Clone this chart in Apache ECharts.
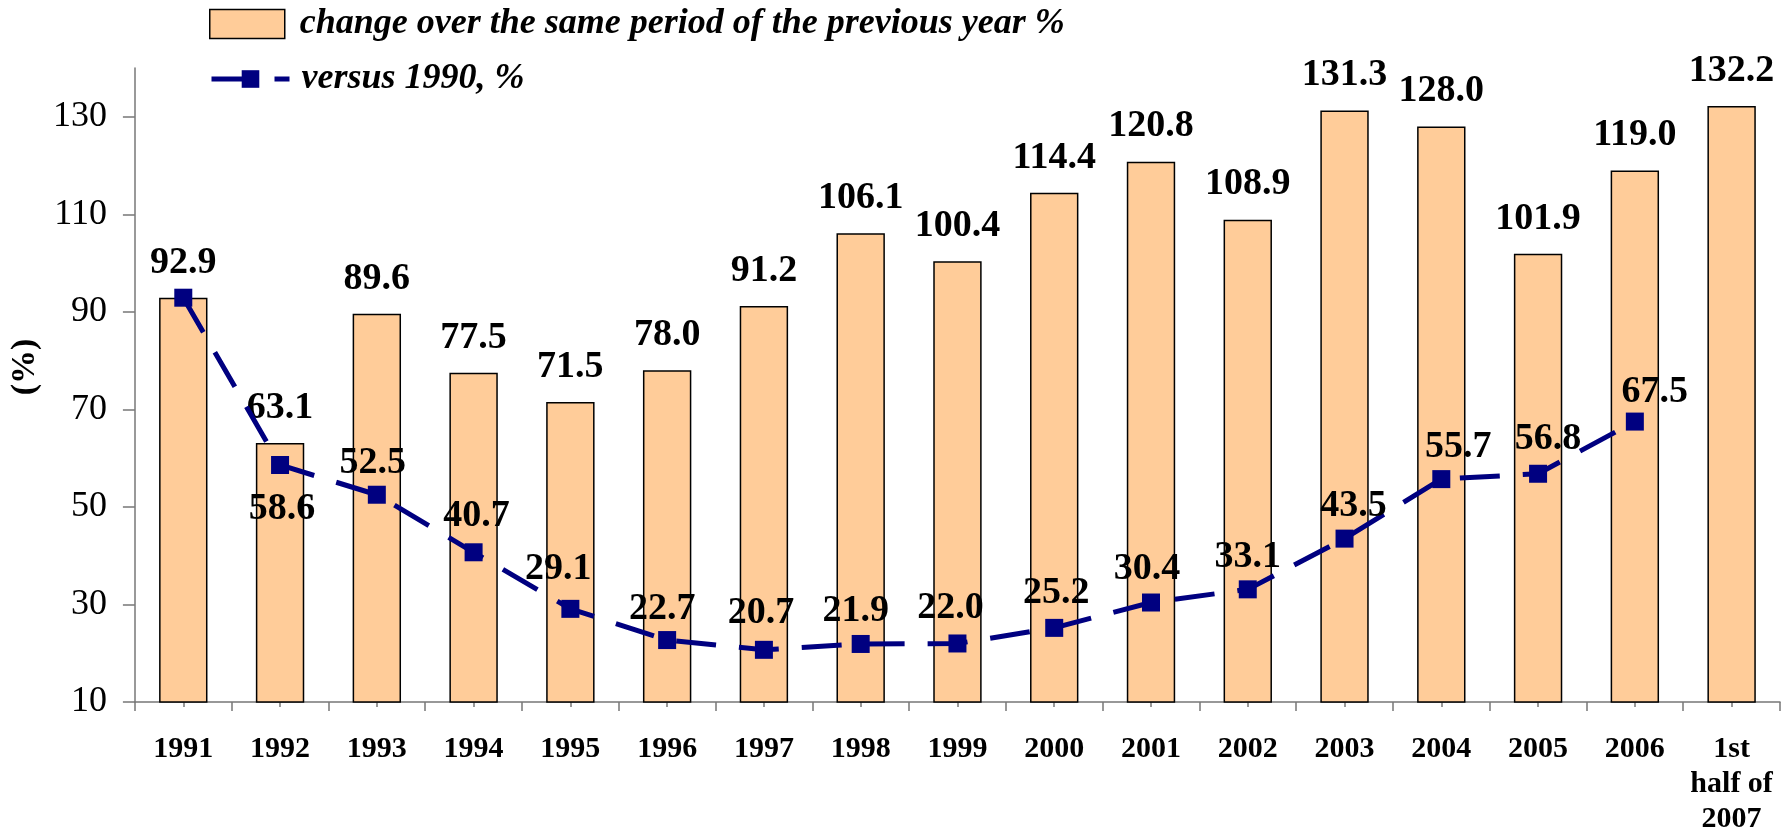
<!DOCTYPE html>
<html>
<head>
<meta charset="utf-8">
<script src="https://cdn.jsdelivr.net/npm/echarts@6/dist/echarts.min.js"></script>
<style>
html,body{margin:0;padding:0;background:#fff;}
#chart{width:1791px;height:837px;}
</style>
</head>
<body>
<div id="chart"></div>
<script>
// ---- data ----
const categories = ['1991','1992','1993','1994','1995','1996','1997','1998','1999','2000','2001','2002','2003','2004','2005','2006','1st\nhalf of\n2007'];
const changeValues = [92.9, 63.1, 89.6, 77.5, 71.5, 78.0, 91.2, 106.1, 100.4, 114.4, 120.8, 108.9, 131.3, 128.0, 101.9, 119.0, 132.2];
const versus1990Values = [92.9, 58.6, 52.5, 40.7, 29.1, 22.7, 20.7, 21.9, 22.0, 25.2, 30.4, 33.1, 43.5, 55.7, 56.8, 67.5, null];
const yTickValues = [10, 30, 50, 70, 90, 110, 130];
const barSeriesName = 'change over the same period of the previous year %';
const lineSeriesName = 'versus 1990, %';

// ---- styling (label nudges, px) ----
const lineLabelOffsets = [null, [2,44], [-4,-32], [3,-36], [-12,-40], [-5,-31], [-3,-37], [-5,-33], [-7,-35], [2,-35], [-4,-33], [0,-32], [9,-32], [17,-32], [10,-35], [20,-29], null];

const FONT = 'Liberation Serif';
const NAVY = '#000080';
const fmt1 = p => Number(p.value).toFixed(1);

const lineData = versus1990Values.map((v, i) => {
  const off = lineLabelOffsets[i];
  return {
    value: v,
    label: off ? { show: true, offset: off } : { show: false }
  };
});

const legendText = { fontFamily: FONT, fontSize: 36, fontStyle: 'italic', fontWeight: 'bold', color: '#000' };

const chart = echarts.init(document.getElementById('chart'), null, { renderer: 'canvas' });
chart.setOption({
  animation: false,
  backgroundColor: '#ffffff',
  grid: { left: 129, right: 11, top: 68, bottom: 128, containLabel: false },
  legend: [
    {
      data: [{ name: barSeriesName, icon: 'rect' }],
      left: 209, top: 6, padding: 0,
      itemWidth: 75, itemHeight: 29,
      itemStyle: { color: '#FFCC99', borderColor: '#000', borderWidth: 1.5 },
      textStyle: Object.assign({}, legendText, { padding: [0,0,0,10] }),
      selectedMode: false
    },
    {
      data: [lineSeriesName],
      left: 209, top: 61, padding: 0,
      itemWidth: 78, itemHeight: 22,
      lineStyle: { color: NAVY, width: 5, type: [40, 23] },
      textStyle: Object.assign({}, legendText, { padding: [0,0,0,7] }),
      selectedMode: false
    }
  ],
  xAxis: [
    {
      type: 'category',
      data: categories,
      position: 'bottom',
      boundaryGap: true,
      axisLine: { lineStyle: { color: '#777', width: 1.5 } },
      axisTick: { show: true, length: 9, lineStyle: { color: '#777', width: 1.5 } },
      axisLabel: { interval: 0, margin: 30, fontFamily: FONT, fontSize: 30, fontWeight: 'bold', color: '#000', lineHeight: 35 }
    },
    {
      type: 'category',
      data: categories,
      position: 'bottom',
      boundaryGap: true,
      axisLine: { show: false },
      axisTick: { show: true, alignWithLabel: true, length: 5, lineStyle: { color: '#777', width: 1.5 } },
      axisLabel: { show: false }
    }
  ],
  yAxis: {
    type: 'value',
    min: 10, max: 140, interval: 20,
    name: '(%)',
    nameLocation: 'middle',
    nameGap: 68,
    nameTextStyle: { fontFamily: FONT, fontSize: 34, fontWeight: 'bold', color: '#000', padding: [0,0,0,36] },
    axisLine: { show: true, lineStyle: { color: '#777', width: 1.5 } },
    axisTick: { show: true, inside: false, length: 12, customValues: yTickValues, lineStyle: { color: '#777', width: 1.5 } },
    axisLabel: { margin: 28, customValues: yTickValues, fontFamily: FONT, fontSize: 36, color: '#000' },
    splitLine: { show: false }
  },
  series: [
    {
      name: barSeriesName,
      type: 'bar',
      xAxisIndex: 0,
      data: changeValues,
      barWidth: '50%',
      itemStyle: { color: '#FFCC99', borderColor: '#000', borderWidth: 1.5 },
      label: { show: true, position: 'top', distance: 16, formatter: fmt1, fontFamily: FONT, fontSize: 38, fontWeight: 'bold', color: '#000' },
      z: 2
    },
    {
      name: lineSeriesName,
      type: 'line',
      xAxisIndex: 0,
      data: lineData,
      connectNulls: false,
      symbol: 'rect',
      symbolSize: 18,
      itemStyle: { color: NAVY },
      lineStyle: { color: NAVY, width: 5, type: [40, 23] },
      label: { show: true, position: 'inside', align: 'center', verticalAlign: 'middle', formatter: fmt1, fontFamily: FONT, fontSize: 38, fontWeight: 'bold', color: '#000' },
      z: 3
    }
  ]
});
</script>
</body>
</html>
